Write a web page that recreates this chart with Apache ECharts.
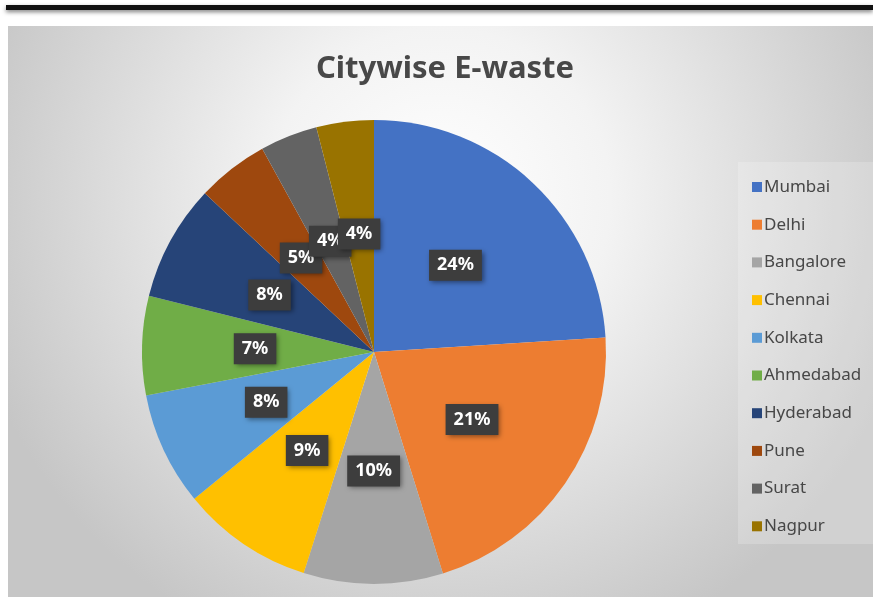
<!DOCTYPE html>
<html>
<head>
<meta charset="utf-8">
<script src="https://cdn.jsdelivr.net/npm/echarts@6/dist/echarts.min.js"></script>
<style>
html,body{margin:0;padding:0;background:#fff;}
#main{width:873px;height:599px;}
</style>
</head>
<body>
<div id="main"></div>
<script>
const titleText = 'Citywise E-waste';
const cities = ['Mumbai','Delhi','Bangalore','Chennai','Kolkata','Ahmedabad','Hyderabad','Pune','Surat','Nagpur'];
const shares = [24.0, 21.2, 9.7, 9.2, 7.9, 6.9, 8.1, 5.0, 4.0, 4.0];
const colors = ['#4472C4','#ED7D31','#A5A5A5','#FFC000','#5B9BD5','#70AD47','#264478','#9E480E','#636363','#997300'];

const chart = echarts.init(document.getElementById('main'), null, {renderer:'canvas'});
const data = cities.map((c,i)=>({name:c, value:shares[i], itemStyle:{color:colors[i]}}));

chart.setOption({
  animation:false,
  graphic:[
    {type:'rect', z:-10, shape:{x:8, y:26, width:865, height:571},
     style:{fill:new echarts.graphic.RadialGradient(0.5,0.3,0.85,[
       {offset:0,color:'#ffffff'},{offset:0.35,color:'#f3f3f3'},{offset:1,color:'#c6c6c6'}])}},
    {type:'rect', z:-5, shape:{x:738, y:162, width:135, height:382},
     style:{fill:'rgba(255,255,255,0.2)'}},
    {type:'rect', z:-9, shape:{x:6, y:5, width:867, height:5},
     style:{fill:'#111', shadowBlur:4, shadowOffsetY:2, shadowColor:'rgba(0,0,0,0.5)'}}
  ],
  title:{
    text:titleText, left:440, top:49, textAlign:'center',
    textStyle:{fontFamily:'Noto Sans', fontSize:31, fontWeight:'bold', color:'#484848'}
  },
  legend:{
    orient:'vertical', left:747, top:172,
    itemWidth:10, itemHeight:10, itemGap:17.7, icon:'rect',
    textStyle:{fontFamily:'Noto Sans', fontSize:17, color:'#474747', lineHeight:20, padding:[0,0,0,-3]},
    data:cities
  },
  series:[{
    type:'pie', center:[374,352], radius:[0,232], startAngle:90, clockwise:true,
    data:data,
    itemStyle:{borderWidth:0},
    labelLayout:{hideOverlap:false},
    label:{
      position:'inside',
      formatter:p=>Math.round(p.percent)+'%',
      fontFamily:'Noto Sans', fontSize:18, fontWeight:'bold', color:'#fff',
      backgroundColor:'#3d3d3d', padding:[7,8,6,8],
      shadowBlur:5, shadowOffsetX:2, shadowOffsetY:2, shadowColor:'rgba(0,0,0,0.45)'
    },
    labelLine:{show:false},
    emphasis:{disabled:true}
  }]
});
</script>
</body>
</html>
